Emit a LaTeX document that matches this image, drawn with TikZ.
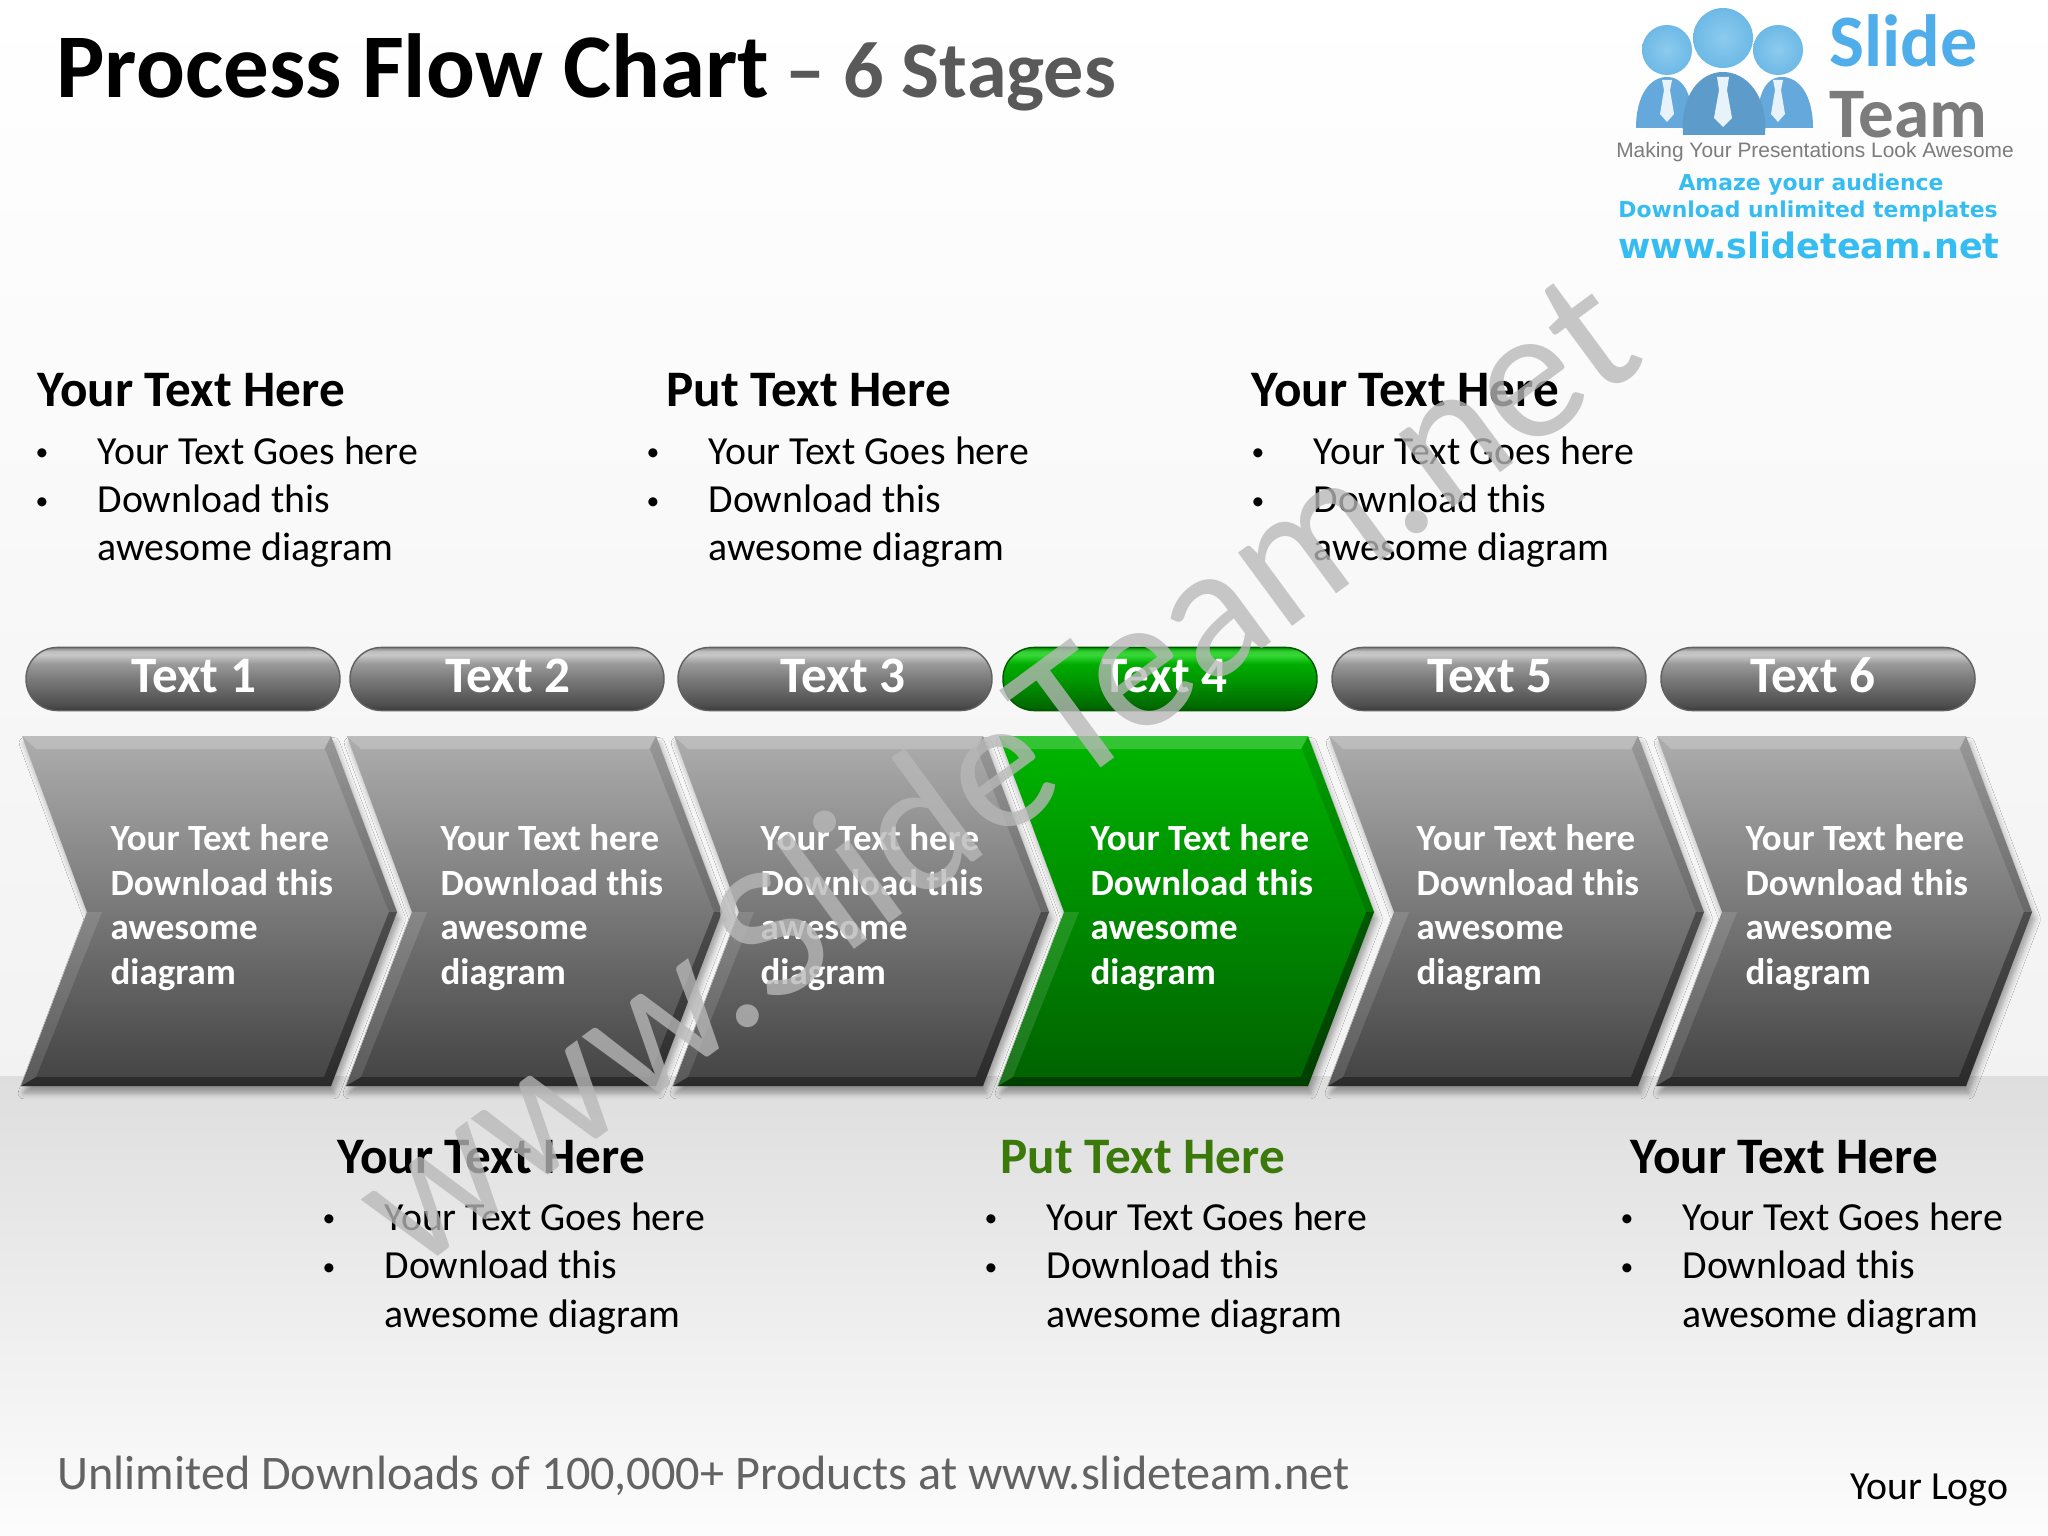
\documentclass[tikz,border=0pt]{standalone}
\usepackage{fontspec}
\setmainfont{Carlito}
\newfontfamily\logoArial{Liberation Sans}
\newfontfamily\logoAncha{DejaVu Sans}
\definecolor{slideGrisTexto}{HTML}{595959}
\definecolor{slideVerdeTexto}{HTML}{3B7A0A}
\definecolor{slidePie}{HTML}{636363}
\definecolor{slideAzul}{HTML}{4FAEEA}
\definecolor{slideCian}{HTML}{35BDF2}
\definecolor{slideLogoGris}{HTML}{7C7C7C}
\definecolor{slideCabeza}{HTML}{6DB9E6}
\definecolor{slideCabezaLuz}{HTML}{8CCBEE}
\definecolor{slideCuerpo}{HTML}{64A8DC}
\usepackage{tikz}
\usetikzlibrary{
	shadows.blur
}
\pgfdeclareverticalshading{etapaGris}{100bp}{
	color(0bp)=(black!74); color(25bp)=(black!74); color(75bp)=(black!32); color(100bp)=(black!32)}
\pgfdeclareverticalshading{etapaVerde}{100bp}{
	color(0bp)=(green!38!black); color(25bp)=(green!38!black); color(62bp)=(green!62!black); color(75bp)=(green!72!black); color(100bp)=(green!72!black)}
\pgfdeclareverticalshading{pastillaGris}{100bp}{
	color(0bp)=(black!78); color(25bp)=(black!78); color(29bp)=(black!70); color(50bp)=(black!52); color(62bp)=(black!40); color(69bp)=(black!22); color(72bp)=(black!25); color(75bp)=(black!50); color(100bp)=(black!50)}
\pgfdeclareverticalshading{pastillaVerde}{100bp}{
	color(0bp)=(green!35!black); color(25bp)=(green!35!black); color(29bp)=(green!42!black); color(50bp)=(green!60!black); color(62bp)=(green!68!black); color(69bp)=(green!75!white!85!black); color(72bp)=(green!75!white!80!black); color(75bp)=(green!58!black); color(100bp)=(green!58!black)}
\tikzset{
	x=0.3515625pt,
	y=-0.3515625pt,
	titulo/.style={
		anchor=base west,
		inner sep=0pt,
		font=\fontsize{32}{36}\selectfont\bfseries
	},
	encabezado/.style={
		anchor=base west,
		inner sep=0pt,
		font=\fontsize{18}{22}\selectfont\bfseries
	},
	lista/.style={
		anchor=base west,
		inner sep=0pt,
		align=left,
		font=\fontsize{14}{17}\selectfont
	},
	pastilla/.style={
		draw=black!62,
		line width=0.5pt,
		rounded corners=11pt,
		minimum width=110.4pt,
		minimum height=22.2pt,
		inner sep=0pt,
		text=white,
		text height=12pt,
		text depth=2.5pt,
		font=\fontsize{18}{20}\selectfont\bfseries,
		shading=pastillaGris
	},
	pastillaActiva/.style={
		pastilla,
		draw=green!35!black,
		shading=pastillaVerde
	},
	rotulo/.style={
		anchor=base west,
		inner sep=0pt,
		align=left,
		text=white,
		font=\fontsize{13}{15.6}\selectfont\bfseries
	},
	logoTexto/.style={
		inner sep=0pt
	}
}
\newcommand{\vineta}{\makebox[21.8pt][l]{\raisebox{1.2pt}{\fontsize{9}{9}\selectfont\textbullet}}}
\newcommand{\vinetas}{\vineta Your Text Goes here\\\vineta Download this\\\makebox[21.8pt][l]{}awesome diagram}
\newcommand{\etapa}[2]{
	\begin{scope}[shift={(#1,0)}]
		\path[shading=#2, blur shadow={shadow xshift=1pt, shadow yshift=-2.5pt, shadow blur radius=2pt, shadow blur steps=6, shadow opacity=35}]
			(0,736) -- (309,736) -- (375,912) -- (309,1086) -- (-1,1086) -- (65,912) -- cycle;
		\fill[white, opacity=0.2] (0,736) -- (309,736) -- (302,749) -- (14,749) -- cycle;
		\fill[black, opacity=0.12] (309,736) -- (375,912) -- (367,912) -- (303,749) -- cycle;
		\fill[black, opacity=0.35] (375,912) -- (309,1086) -- (302,1077) -- (367,912) -- cycle;
		\fill[black, opacity=0.35] (309,1086) -- (-1,1086) -- (14,1077) -- (302,1077) -- cycle;
		\fill[white, opacity=0.12] (65,912) -- (-1,1086) -- (14,1077) -- (80,912) -- cycle;
	\end{scope}
}
\begin{document}
\begin{tikzpicture}
	\useasboundingbox (0,0) rectangle (2048,1536);
	\fill[top color=white, bottom color=black!5] (0,0) rectangle (2048,1076);
	\fill[top color=black!13, bottom color=black!1] (0,1076) rectangle (2048,1536);

	\node[titulo] (tituloPrincipal) at (56,98) {Process Flow Chart\hspace{5.5pt}\textcolor{slideGrisTexto}{\fontsize{28.2}{32}\selectfont – 6 Stages}};

	\shade[inner color=slideCabezaLuz, outer color=slideCabeza] (1667,50) circle [radius=25];
	\shade[inner color=slideCabezaLuz, outer color=slideCabeza] (1778,50) circle [radius=25];
	\fill[slideCuerpo] (1636,128) .. controls (1636,95) and (1650,77) .. (1667,77) .. controls (1684,77) and (1693,95) .. (1693,128) -- cycle;
	\fill[slideCuerpo] (1757,128) .. controls (1757,95) and (1765,77) .. (1782,77) .. controls (1799,77) and (1813,95) .. (1813,128) -- cycle;
	\fill[white!85!slideCuerpo] (1662,80) -- (1672,80) -- (1670,90) -- (1674,114) -- (1667,122) -- (1660,114) -- (1664,90) -- cycle;
	\fill[white!85!slideCuerpo] (1773,80) -- (1783,80) -- (1781,90) -- (1785,114) -- (1778,122) -- (1771,114) -- (1775,90) -- cycle;
	\fill[slideCuerpo!92!black] (1683,135) .. controls (1680,95) and (1700,72) .. (1723,72) .. controls (1746,72) and (1768,95) .. (1765,135) -- cycle;
	\shade[inner color=slideCabezaLuz, outer color=slideCabeza] (1723,38) circle [radius=30];
	\fill[white!85!slideCuerpo] (1717,77) -- (1729,77) -- (1727,90) -- (1732,118) -- (1723,127) -- (1714,118) -- (1719,90) -- cycle;
	\node[logoTexto, anchor=base west, text=slideAzul, font=\fontsize{26}{27}\selectfont\bfseries] (logoSlide) at (1829,67) {Slide};
	\node[logoTexto, anchor=base west, text=slideLogoGris, font=\fontsize{25}{26}\selectfont\bfseries] (logoTeam) at (1829,138) {Team};
	\node[logoTexto, text=slideLogoGris, font=\logoArial\fontsize{7.35}{8}\selectfont] (logoLema) at (1815,152) {Making Your Presentations Look Awesome};
	\node[logoTexto, text=slideCian, font=\logoAncha\fontsize{7.7}{9}\selectfont\bfseries] (logoAudiencia) at (1811,185) {Amaze your audience};
	\node[logoTexto, text=slideCian, font=\logoAncha\fontsize{7.7}{9}\selectfont\bfseries] (logoPlantillas) at (1808,211) {Download unlimited templates};
	\node[logoTexto, text=slideCian, font=\logoAncha\fontsize{12.3}{13}\selectfont\bfseries] (logoWeb) at (1809,245) {www.slideteam.net};

	\node[encabezado] (encabezadoUno) at (37,407) {Your Text Here};
	\node[encabezado] (encabezadoDos) at (666,407) {Put Text Here};
	\node[encabezado] (encabezadoTres) at (1251,407) {Your Text Here};
	\node[lista] (listaUno) at (35,561) {\vinetas};
	\node[lista] (listaDos) at (646,561) {\vinetas};
	\node[lista] (listaTres) at (1251,561) {\vinetas};

	\node[pastilla] (pastillaUno) at (183,679) {\hspace*{7.7pt}Text 1};
	\node[pastilla] (pastillaDos) at (507,679) {\hspace*{0.7pt}Text 2};
	\node[pastilla] (pastillaTres) at (835,679) {\hspace*{5.6pt}Text 3};
	\node[pastillaActiva] (pastillaCuatro) at (1160,679) {\hspace*{3.5pt}Text 4};
	\node[pastilla] (pastillaCinco) at (1489,679) {\hspace*{0.7pt}Text 5};
	\node[pastilla] (pastillaSeis) at (1818,679) {Text 6\hspace*{3.5pt}};

	\etapa{22}{etapaGris}
	\etapa{347}{etapaGris}
	\etapa{674}{etapaGris}
	\etapa{999}{etapaVerde}
	\etapa{1329}{etapaGris}
	\etapa{1657}{etapaGris}

	\node[rotulo] (rotuloUno) at (110,984) {Your Text here\\Download this\\awesome\\diagram};
	\node[rotulo] (rotuloDos) at (440,984) {Your Text here\\Download this\\awesome\\diagram};
	\node[rotulo] (rotuloTres) at (760,984) {Your Text here\\Download this\\awesome\\diagram};
	\node[rotulo] (rotuloCuatro) at (1090,984) {Your Text here\\Download this\\awesome\\diagram};
	\node[rotulo] (rotuloCinco) at (1416,984) {Your Text here\\Download this\\awesome\\diagram};
	\node[rotulo] (rotuloSeis) at (1745,984) {Your Text here\\Download this\\awesome\\diagram};

	\node[encabezado] (encabezadoCuatro) at (337,1173) {Your Text Here};
	\node[encabezado, text=slideVerdeTexto] (encabezadoCinco) at (1000,1173) {Put Text Here};
	\node[encabezado] (encabezadoSeis) at (1630,1173) {Your Text Here};
	\node[lista] (listaCuatro) at (322,1327) {\vinetas};
	\node[lista] (listaCinco) at (984,1327) {\vinetas};
	\node[lista] (listaSeis) at (1620,1327) {\vinetas};

	\node[logoTexto, anchor=base west, text=slidePie, font=\fontsize{16.95}{20}\selectfont] (pieDescargas) at (57,1489) {Unlimited Downloads of 100,000+ Products at www.slideteam.net};
	\node[logoTexto, anchor=base east, font=\fontsize{14}{16}\selectfont] (pieLogo) at (2009,1499) {Your Logo};

	\node[inner sep=0pt, rotate=36.4, text=black!28, opacity=0.78, font=\fontsize{67}{70}\selectfont] (marcaAgua) at (993,766) {www.SlideTeam.net};
\end{tikzpicture}
\end{document}
